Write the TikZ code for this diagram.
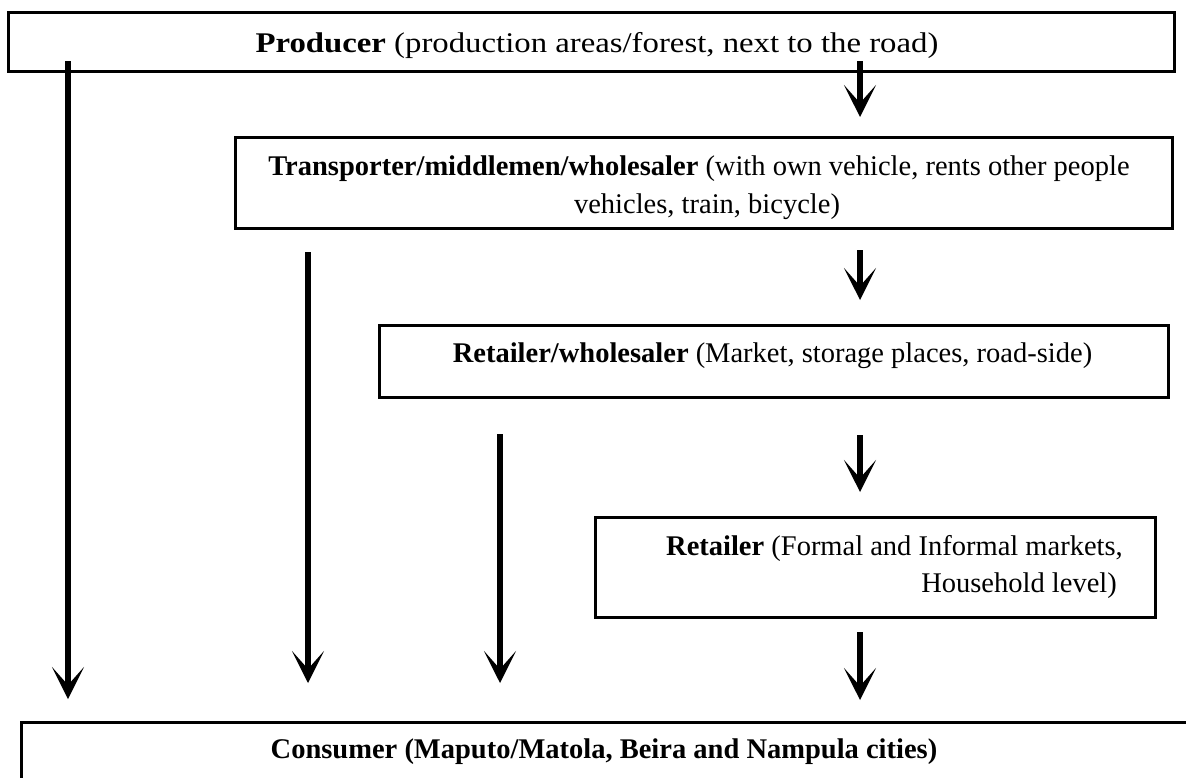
\documentclass[tikz,border=0pt]{standalone}
\usepackage{fontspec}
\setmainfont{Liberation Serif}
\usetikzlibrary{arrows.meta}
\begin{document}
\begin{tikzpicture}[x=1pt,y=-1pt,
  box/.style={draw, line width=3pt, inner sep=0pt, rectangle},
  txt/.style={inner sep=0pt, anchor=base, font=\fontsize{28.5}{37}\selectfont},
  flow/.style={line width=6pt, -{Stealth[length=32pt,width=32pt,inset=18pt]}}]
\useasboundingbox (0,0) rectangle (1186,777);
% boxes
\node[box, minimum width=1166pt, minimum height=59pt] (prod) at (591,41.5) {};
\node[box, minimum width=937pt, minimum height=91pt] (trans) at (703.5,182.5) {};
\node[box, minimum width=789pt, minimum height=72pt] (retwh) at (773.5,361) {};
\node[box, minimum width=560pt, minimum height=100pt] (ret) at (875,567) {};
\node[box, minimum width=1220pt, minimum height=120pt, anchor=north west] (cons) at (20,721) {};
% texts
\node[txt, xscale=1.15, transform shape] (prodT) at (597,52) {\textbf{Producer} (production areas/forest, next to the road)};
\node[txt] (transT1) at (699,175) {\textbf{Transporter/middlemen/wholesaler} (with own vehicle, rents other people};
\node[txt] (transT2) at (707,213) {vehicles, train, bicycle)};
\node[txt] (retwhT) at (772.5,362) {\textbf{Retailer/wholesaler} (Market, storage places, road-side)};
\node[txt, anchor=base east] (retT1) at (1123,555) {\textbf{Retailer} (Formal and Informal markets,};
\node[txt, anchor=base east] (retT2) at (1117,592) {Household level)};
\node[txt] (consT) at (604,758) {\textbf{Consumer (Maputo/Matola, Beira and Nampula cities)}};
% arrow end points
\coordinate (p0) at (68,61);   \coordinate (c0) at (68,699);
\coordinate (p1) at (860,61);  \coordinate (t1) at (860,117);
\coordinate (t2) at (308,252); \coordinate (c2) at (308,683);
\coordinate (t3) at (860,250); \coordinate (r3) at (860,300);
\coordinate (r4) at (500,434); \coordinate (c4) at (500,683);
\coordinate (r5) at (860,435); \coordinate (s5) at (860,492);
\coordinate (s6) at (860,632); \coordinate (c6) at (860,700);
\draw[flow] (p0) -- (c0);
\draw[flow] (p1) -- (t1);
\draw[flow] (t2) -- (c2);
\draw[flow] (t3) -- (r3);
\draw[flow] (r4) -- (c4);
\draw[flow] (r5) -- (s5);
\draw[flow] (s6) -- (c6);
\end{tikzpicture}
\end{document}
